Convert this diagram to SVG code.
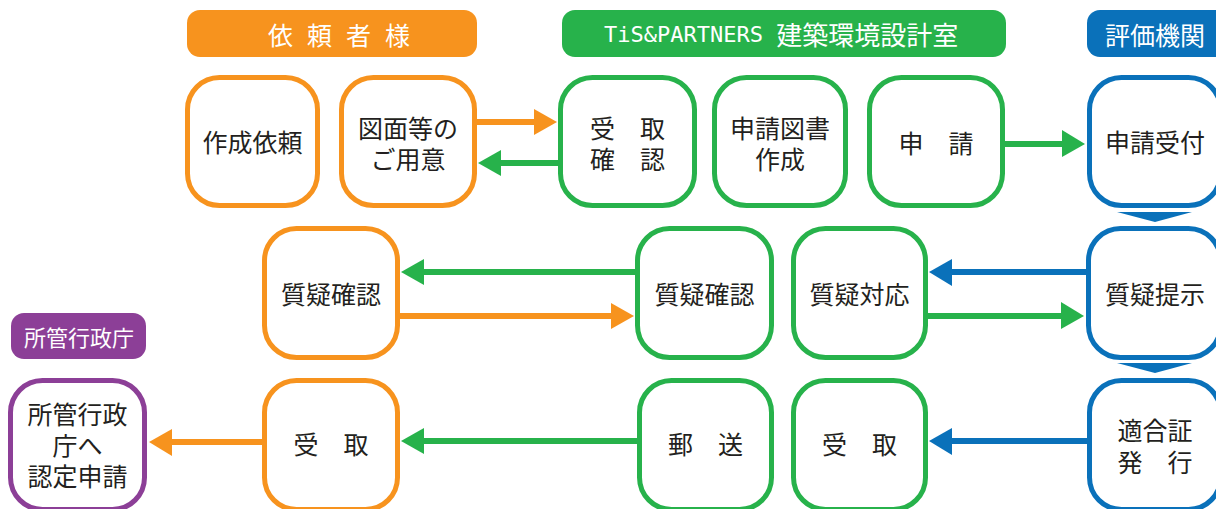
<svg xmlns="http://www.w3.org/2000/svg" width="1216" height="509" viewBox="0 0 1216 509">
<style>
.bg{fill:#ffffff}
.node{fill:#ffffff;stroke-width:5}
.o{stroke:#F7931E}
.g{stroke:#27B24B}
.b{stroke:#0A71BA}
.p{stroke:#8C3F97}
.t{font-family:"Noto Sans CJK JP","Noto Sans",sans-serif;font-size:25px;fill:#231F20;text-anchor:middle;dominant-baseline:central}
.h{font-family:"Noto Sans CJK JP","Noto Sans",sans-serif;fill:#ffffff;dominant-baseline:central}
.lo{stroke:#F7931E;stroke-width:6;fill:none}
.lg{stroke:#27B24B;stroke-width:6;fill:none}
.lb{stroke:#0A71BA;stroke-width:6;fill:none}
.fo{fill:#F7931E}
.fg{fill:#27B24B}
.fb{fill:#0A71BA}
</style>
<rect class="bg" x="0" y="0" width="1216" height="509"/>

<g id="header-client">
<rect x="187" y="10" width="290" height="47" rx="13" fill="#F7931E"/>
<text class="h" x="346" y="33.5" font-size="25" text-anchor="middle" letter-spacing="14">依頼者様</text>
</g>
<g id="header-tis">
<rect x="562" y="10" width="444" height="47" rx="13" fill="#27B24B"/>
<text class="h" x="604" y="33.5" font-size="26"><tspan font-family="'DejaVu Sans Mono',monospace" font-size="22">TiS&amp;PARTNERS </tspan>建築環境設計室</text>
</g>
<g id="header-eval">
<rect x="1087" y="10" width="150" height="47" rx="13" fill="#0A71BA"/>
<text class="h" x="1155" y="33.5" font-size="25" text-anchor="middle">評価機関</text>
</g>
<g id="header-gov">
<rect x="11" y="313" width="135" height="46" rx="13" fill="#8C3F97"/>
<text class="h" x="79" y="336" font-size="22" text-anchor="middle">所管行政庁</text>
</g>

<g id="connectors">
<!-- row 1 -->
<line class="lo" x1="477" y1="122" x2="536" y2="122"/>
<polygon class="fo" points="557,122 534,109 534,135"/>
<line class="lg" x1="558" y1="163" x2="500" y2="163"/>
<polygon class="fg" points="478,163 501,150 501,176"/>
<line class="lg" x1="1005" y1="144" x2="1064" y2="144"/>
<polygon class="fg" points="1085,144 1062,130 1062,157"/>
<polygon class="fb" points="1117,212 1192,212 1155,222"/>
<!-- row 2 -->
<line class="lg" x1="635" y1="272" x2="423" y2="272"/>
<polygon class="fg" points="401,272 424,259 424,285"/>
<line class="lo" x1="400" y1="316" x2="612" y2="316"/>
<polygon class="fo" points="634,316 611,303 611,329"/>
<line class="lb" x1="1086" y1="272" x2="950" y2="272"/>
<polygon class="fb" points="929,272 952,259 952,286"/>
<line class="lg" x1="928" y1="316" x2="1063" y2="316"/>
<polygon class="fg" points="1084,316 1061,302 1061,329"/>
<polygon class="fb" points="1117,363 1192,363 1155,373"/>
<!-- row 3 -->
<line class="lb" x1="1087" y1="441" x2="950" y2="441"/>
<polygon class="fb" points="929,441 952,428 952,455"/>
<line class="lg" x1="637" y1="441" x2="423" y2="441"/>
<polygon class="fg" points="401,441 424,428 424,454"/>
<line class="lo" x1="262" y1="442" x2="170" y2="442"/>
<polygon class="fo" points="149,442 172,429 172,456"/>
</g>

<g id="n-sakusei-irai">
<rect class="node o" x="187.5" y="77.5" width="130" height="128" rx="32"/>
<text class="t" x="252.5" y="141">作成依頼</text>
</g>
<g id="n-zumen">
<rect class="node o" x="341.5" y="77.5" width="133" height="128" rx="32"/>
<text class="t" x="408" y="127">図面等の</text>
<text class="t" x="408" y="158">ご用意</text>
</g>
<g id="n-uketori-kakunin">
<rect class="node g" x="560.5" y="77.5" width="134" height="128" rx="32"/>
<text class="t" x="627.5" y="127">受　取</text>
<text class="t" x="627.5" y="158">確　認</text>
</g>
<g id="n-shinsei-tosho">
<rect class="node g" x="714.5" y="77.5" width="131" height="128" rx="32"/>
<text class="t" x="780" y="127">申請図書</text>
<text class="t" x="780" y="158">作成</text>
</g>
<g id="n-shinsei">
<rect class="node g" x="869.5" y="77.5" width="133" height="128" rx="32"/>
<text class="t" x="936" y="142">申　請</text>
</g>
<g id="n-shinsei-uketsuke">
<rect class="node b" x="1089.5" y="77.5" width="131" height="128" rx="32"/>
<text class="t" x="1155" y="141">申請受付</text>
</g>

<g id="n-shitsugi-kakunin-o">
<rect class="node o" x="264.5" y="228.5" width="133" height="129" rx="32"/>
<text class="t" x="331" y="293">質疑確認</text>
</g>
<g id="n-shitsugi-kakunin-g">
<rect class="node g" x="637.5" y="228.5" width="134" height="129" rx="32"/>
<text class="t" x="704.5" y="293">質疑確認</text>
</g>
<g id="n-shitsugi-taiou">
<rect class="node g" x="793.5" y="228.5" width="132" height="129" rx="32"/>
<text class="t" x="859.5" y="293">質疑対応</text>
</g>
<g id="n-shitsugi-teiji">
<rect class="node b" x="1088.5" y="228.5" width="132" height="129" rx="32"/>
<text class="t" x="1155" y="293">質疑提示</text>
</g>

<g id="n-gov">
<rect class="node p" x="10.5" y="380.5" width="134" height="129" rx="32"/>
<text class="t" x="77.5" y="413">所管行政</text>
<text class="t" x="77.5" y="444">庁へ</text>
<text class="t" x="77.5" y="475">認定申請</text>
</g>
<g id="n-uketori-o">
<rect class="node o" x="264.5" y="380.5" width="133" height="129" rx="32"/>
<text class="t" x="331" y="443">受　取</text>
</g>
<g id="n-yuusou">
<rect class="node g" x="639.5" y="380.5" width="132" height="129" rx="32"/>
<text class="t" x="705.5" y="443">郵　送</text>
</g>
<g id="n-uketori-g">
<rect class="node g" x="793.5" y="380.5" width="132" height="129" rx="32"/>
<text class="t" x="859.5" y="443">受　取</text>
</g>
<g id="n-tekigou">
<rect class="node b" x="1089.5" y="380.5" width="131" height="129" rx="32"/>
<text class="t" x="1155" y="429">適合証</text>
<text class="t" x="1155" y="461">発　行</text>
</g>
</svg>
